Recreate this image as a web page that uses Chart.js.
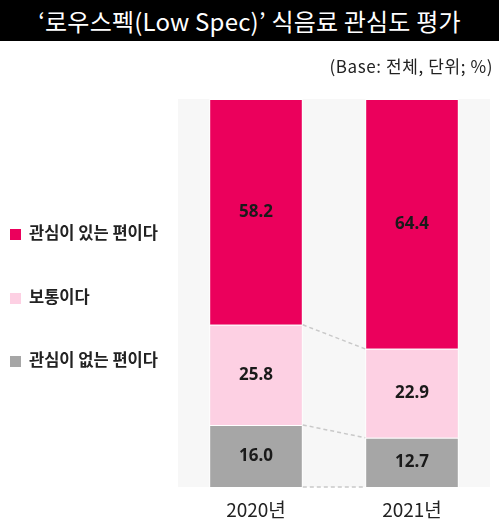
<!DOCTYPE html>
<html>
<head>
<meta charset="utf-8">
<script src="https://cdn.jsdelivr.net/npm/chart.js@4.4.0/dist/chart.umd.min.js"></script>
<style>
  html, body { margin: 0; padding: 0; background: #fff; }
  #wrap { position: relative; width: 499px; height: 520px; overflow: hidden; font-family: "Noto Sans CJK KR", "Noto Sans", sans-serif; }
  #title { position: absolute; left: 0; top: 0; width: 499px; height: 41px; background: #000; color: #fff;
    font-size: 24px; line-height: 41px; text-align: center; letter-spacing: 0.2px; }
  #sub { position: absolute; right: 6px; top: 53px; font-size: 17px; color: #222; letter-spacing: 0.6px; }
  #legend { position: absolute; left: 10px; top: 0; }
  .item { position: absolute; white-space: nowrap; font-size: 16.5px; font-weight: bold; color: #222; }
  .item span.box { display: inline-block; width: 11px; height: 11px; margin-right: 8px; vertical-align: -1px; }
  canvas { position: absolute; left: 0; top: 0; }
</style>
</head>
<body>
<div id="wrap">
  <canvas id="chart" width="499" height="520"></canvas>
  <div id="title">‘로우스펙(Low Spec)’ 식음료 관심도 평가</div>
  <div id="sub">(Base: 전체, 단위; %)</div>
  <div id="legend"></div>
</div>
<script>
const categories = ["2020년", "2021년"];
const seriesNames = ["관심이 없는 편이다", "보통이다", "관심이 있는 편이다"];
const notInterested = [16.0, 12.7];
const neutral = [25.8, 22.9];
const interested = [58.2, 64.4];
const colors = ["#a6a6a6", "#fdd0e3", "#eb005c"];

const values = [notInterested, neutral, interested];

// legend (top series first)
const legendTops = [220, 284, 347];
const legend = document.getElementById("legend");
[2, 1, 0].forEach((s, i) => {
  const d = document.createElement("div");
  d.className = "item";
  d.style.top = legendTops[i] + "px";
  d.innerHTML = '<span class="box" style="background:' + colors[s] + '"></span>' + seriesNames[s];
  legend.appendChild(d);
});

// fond gris derrière les barres
const panel = {
  id: "panel",
  beforeDatasetsDraw(chart) {
    const a = chart.chartArea;
    const ctx = chart.ctx;
    ctx.save();
    ctx.fillStyle = "#f7f7f7";
    ctx.fillRect(a.left, a.top, a.right - a.left, a.bottom - a.top);
    ctx.restore();
  },
};

// lignes pointillées entre les barres + valeurs
const extras = {
  id: "extras",
  afterDatasetsDraw(chart) {
    const ctx = chart.ctx;
    ctx.save();
    ctx.strokeStyle = "#c9c9c9";
    ctx.lineWidth = 1.5;
    ctx.setLineDash([4, 3]);
    [0, 1].forEach((ds) => {
      const m = chart.getDatasetMeta(ds).data;
      const a = m[0], b = m[1];
      ctx.beginPath();
      ctx.moveTo(a.x + a.width / 2, a.y);
      ctx.lineTo(b.x - b.width / 2, b.y);
      ctx.stroke();
    });
    const m0 = chart.getDatasetMeta(0).data;
    ctx.beginPath();
    ctx.moveTo(m0[0].x + m0[0].width / 2, m0[0].base);
    ctx.lineTo(m0[1].x - m0[1].width / 2, m0[1].base);
    ctx.stroke();
    ctx.setLineDash([]);
    ctx.fillStyle = "#1a1a1a";
    ctx.font = "bold 17px 'Noto Sans', 'DejaVu Sans', sans-serif";
    ctx.textAlign = "center";
    ctx.textBaseline = "middle";
    chart.data.datasets.forEach((d, ds) => {
      chart.getDatasetMeta(ds).data.forEach((bar, i) => {
        ctx.fillText(d.data[i].toFixed(1), bar.x, (bar.y + bar.base) / 2);
      });
    });
    ctx.restore();
  },
};

new Chart(document.getElementById("chart"), {
  type: "bar",
  data: {
    labels: categories,
    datasets: values.map((v, s) => ({
      label: seriesNames[s],
      data: v,
      backgroundColor: colors[s],
      borderColor: "#ffffff",
      borderWidth: 1,
      barPercentage: 0.6,
      categoryPercentage: 1,
    })),
  },
  options: {
    responsive: false,
    animation: false,
    layout: { padding: { left: 178, right: 9, top: 99, bottom: 0 } },
    plugins: { legend: { display: false }, tooltip: { enabled: false } },
    scales: {
      x: {
        stacked: true,
        grid: { display: false },
        border: { display: false },
        afterFit: (scale) => { scale.height = 33; },
        ticks: { color: "#222", padding: 3, font: { size: 19, family: "'Noto Sans CJK KR', sans-serif" } },
      },
      y: { stacked: true, display: false, min: 0, max: 100 },
    },
  },
  plugins: [panel, extras],
});
</script>
</body>
</html>
